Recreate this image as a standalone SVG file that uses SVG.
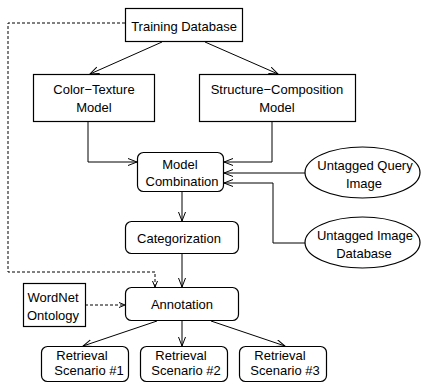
<svg xmlns="http://www.w3.org/2000/svg" width="421" height="383" viewBox="0 0 421 383">
<style>
.box{fill:#fff;stroke:#000;stroke-width:1.2}
.t{font-family:"Liberation Sans",Arial,sans-serif;font-size:13px;fill:#000;text-anchor:middle}
.c{fill:none;stroke:#000;stroke-width:1}
.d{fill:none;stroke:#000;stroke-width:1;stroke-dasharray:3,2}
</style>
<defs>
<marker id="a" markerUnits="userSpaceOnUse" markerWidth="12" markerHeight="10" refX="9" refY="4" orient="auto">
<path d="M0,0.5 L9,4 L0,7.5" fill="none" stroke="#000" stroke-width="1"/>
</marker>
<marker id="s" markerUnits="userSpaceOnUse" markerWidth="8" markerHeight="8" refX="6" refY="3" orient="auto">
<path d="M0,0.5 L6,3 L0,5.5" fill="none" stroke="#000" stroke-width="1"/>
</marker>
</defs>
<rect width="421" height="383" fill="#fff"/>
<g id="connectors">
<line class="c" x1="162" y1="42" x2="90" y2="74" marker-end="url(#a)"/>
<line class="c" x1="205" y1="42" x2="278" y2="74" marker-end="url(#a)"/>
<polyline class="c" points="88,122 88,162 137,162" marker-end="url(#a)"/>
<polyline class="c" points="272,122 272,162 224,162" marker-end="url(#a)"/>
<line class="c" x1="305" y1="173" x2="224" y2="173" marker-end="url(#a)"/>
<polyline class="c" points="305,243 273,243 273,183 224,183" marker-end="url(#a)"/>
<line class="c" x1="182" y1="192" x2="182" y2="221" marker-end="url(#a)"/>
<line class="c" x1="182" y1="254" x2="182" y2="287" marker-end="url(#a)"/>
<polyline class="d" points="125,23 8,23 8,272 155,272 155,287" marker-end="url(#s)"/>
<line class="d" x1="85" y1="305" x2="125" y2="305" marker-end="url(#s)"/>
<line class="c" x1="157" y1="321" x2="83" y2="346" marker-end="url(#a)"/>
<line class="c" x1="182" y1="321" x2="182" y2="346" marker-end="url(#a)"/>
<line class="c" x1="211" y1="321" x2="285" y2="346" marker-end="url(#a)"/>
</g>
<g id="training-db">
<rect class="box" x="125.5" y="8.5" width="117" height="33"/>
<text class="t" x="184" y="31">Training Database</text>
</g>
<g id="color-texture">
<rect class="box" x="33.5" y="74.5" width="121" height="47"/>
<text class="t" x="94" y="94">Color−Texture</text>
<text class="t" x="94" y="112">Model</text>
</g>
<g id="structure-composition">
<rect class="box" x="199.5" y="74.5" width="156" height="47"/>
<text class="t" x="277" y="94">Structure−Composition</text>
<text class="t" x="277" y="112">Model</text>
</g>
<g id="model-combination">
<rect class="box" x="137.5" y="152.5" width="86" height="39" rx="6"/>
<text class="t" x="180" y="169">Model</text>
<text class="t" x="182" y="186">Combination</text>
</g>
<g id="query-image">
<ellipse class="box" cx="362.5" cy="172.5" rx="57.5" ry="25.5"/>
<text class="t" x="365" y="170">Untagged Query</text>
<text class="t" x="364" y="188">Image</text>
</g>
<g id="image-database">
<ellipse class="box" cx="362.5" cy="242.5" rx="57.5" ry="25.5"/>
<text class="t" x="365" y="240">Untagged Image</text>
<text class="t" x="364" y="258">Database</text>
</g>
<g id="categorization">
<rect class="box" x="125.5" y="221.5" width="113" height="32" rx="6"/>
<text class="t" x="179" y="243">Categorization</text>
</g>
<g id="annotation">
<rect class="box" x="125.5" y="287.5" width="113" height="33" rx="6"/>
<text class="t" x="182" y="309">Annotation</text>
</g>
<g id="wordnet">
<rect class="box" x="23.5" y="283.5" width="62" height="43"/>
<text class="t" x="53" y="302">WordNet</text>
<text class="t" x="53" y="320">Ontology</text>
</g>
<g id="scenario-1">
<rect class="box" x="41.5" y="346.5" width="87" height="35" rx="6"/>
<text class="t" x="82" y="360">Retrieval</text>
<text class="t" x="89" y="375">Scenario #1</text>
</g>
<g id="scenario-2">
<rect class="box" x="140.5" y="346.5" width="87" height="35" rx="6"/>
<text class="t" x="181" y="360">Retrieval</text>
<text class="t" x="186" y="375">Scenario #2</text>
</g>
<g id="scenario-3">
<rect class="box" x="239.5" y="346.5" width="87" height="35" rx="6"/>
<text class="t" x="280" y="360">Retrieval</text>
<text class="t" x="285" y="375">Scenario #3</text>
</g>
</svg>
